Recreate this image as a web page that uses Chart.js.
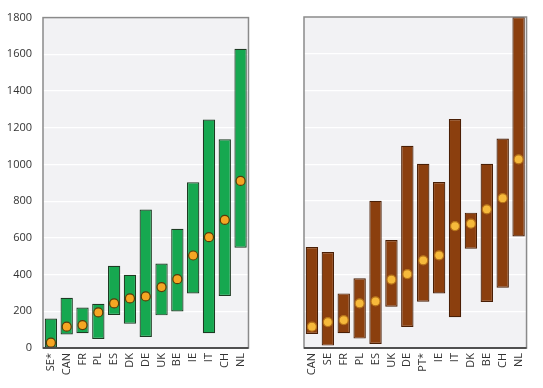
<!DOCTYPE html>
<html><head><meta charset="utf-8">
<script src="https://cdn.jsdelivr.net/npm/chart.js@4"></script>
<style>
html,body{margin:0;padding:0;background:#fff;}
#wrap{position:relative;width:543px;height:388px;}
#c1{position:absolute;left:0;top:0;}
#c2{position:absolute;left:290px;top:0;}
</style></head><body>
<div id="wrap">
<canvas id="c1" width="259" height="388"></canvas>
<canvas id="c2" width="247" height="388"></canvas>
</div>
<script>
const leftCategories = ['SE*','CAN','FR','PL','ES','DK','DE','UK','BE','IE','IT','CH','NL'];
const leftLow  = [0, 74, 80, 49, 180, 132, 60, 178, 199, 297, 80, 283, 546];
const leftHigh = [161, 274, 221, 241, 448, 399, 754, 460, 649, 903, 1245, 1137, 1630];
const leftMid  = [29, 116, 125, 194, 243, 270, 281, 332, 375, 504, 604, 698, 910];

const rightCategories = ['CAN','SE','FR','PL','ES','UK','DE','PT*','IE','IT','DK','BE','CH','NL'];
const rightLow  = [76, 13, 80, 51, 22, 225, 114, 252, 297, 167, 540, 250, 328, 607];
const rightHigh = [549, 522, 297, 379, 801, 587, 1100, 1002, 903, 1245, 736, 1002, 1139, 1800];
const rightMid  = [116, 141, 152, 243, 254, 372, 402, 477, 504, 663, 676, 754, 815, 1026];

const yTicks = [0, 200, 400, 600, 800, 1000, 1200, 1400, 1600, 1800];

const framePlugin = {
  id: 'frame',
  beforeDraw(chart) {
    const a = chart.chartArea, ctx = chart.ctx;
    ctx.save();
    ctx.fillStyle = '#f2f2f4';
    ctx.fillRect(a.left, a.top, a.right - a.left, a.bottom - a.top);
    ctx.restore();
  },
  afterDraw(chart) {
    const a = chart.chartArea, ctx = chart.ctx;
    ctx.save();
    ctx.strokeStyle = '#8a8a8a';
    ctx.lineWidth = 1.5;
    ctx.strokeRect(a.left, a.top, a.right - a.left, a.bottom - a.top);
    ctx.strokeStyle = '#333';
    ctx.beginPath();
    ctx.moveTo(a.left, a.bottom); ctx.lineTo(a.right, a.bottom);
    ctx.stroke();
    ctx.restore();
  }
};

function makeChart(id, cats, low, high, mid, barColor, barBorder, dotColor, dotBorder, showY, padLeft) {
  const font = {family: "'Open Sans', 'DejaVu Sans', sans-serif", size: 11};
  return new Chart(document.getElementById(id), {
    data: {
      labels: cats,
      datasets: [
        {
          type: 'line',
          data: mid,
          showLine: false,
          pointRadius: 4.5,
          pointHoverRadius: 4.5,
          pointBackgroundColor: dotColor,
          pointBorderColor: dotBorder,
          pointBorderWidth: 1.2,
          order: 0
        },
        {
          type: 'bar',
          data: cats.map((c, i) => [low[i], high[i]]),
          backgroundColor: barColor,
          borderColor: barBorder,
          borderWidth: 1.2,
          borderSkipped: false,
          barPercentage: 0.78,
          categoryPercentage: 1.0,
          order: 1
        }
      ]
    },
    options: {
      responsive: false,
      animation: false,
      events: [],
      layout: {padding: {top: 17, left: padLeft, right: 0, bottom: 0}},
      plugins: {legend: {display: false}, tooltip: {enabled: false}},
      scales: {
        x: {
          type: 'category',
          offset: true,
          grid: {display: false, drawTicks: false},
          border: {display: false},
          ticks: {minRotation: 90, maxRotation: 90, autoSkip: false, color: '#333', font: font, padding: 5},
          afterFit(s) { s.height = 40; }
        },
        y: {
          display: showY ? true : 'auto',
          min: 0, max: 1800,
          afterBuildTicks(s) { s.ticks = yTicks.map(v => ({value: v})); },
          grid: {color: '#ffffff', lineWidth: 1.2, drawTicks: false},
          border: {display: false},
          ticks: {display: showY, color: '#333', font: font, padding: 11, callback: v => String(v)},
          afterFit(s) { if (!showY) s.width = 0; else s.width = 43; }
        }
      }
    },
    plugins: [framePlugin]
  });
}

makeChart('c1', leftCategories, leftLow, leftHigh, leftMid, '#16a850', '#1d3b22', '#f5a623', '#5a3a08', true, 0);
makeChart('c2', rightCategories, rightLow, rightHigh, rightMid, '#8b3f0e', '#4a1f05', '#f6b93b', '#b8741a', false, 14);
</script>
</body></html>
